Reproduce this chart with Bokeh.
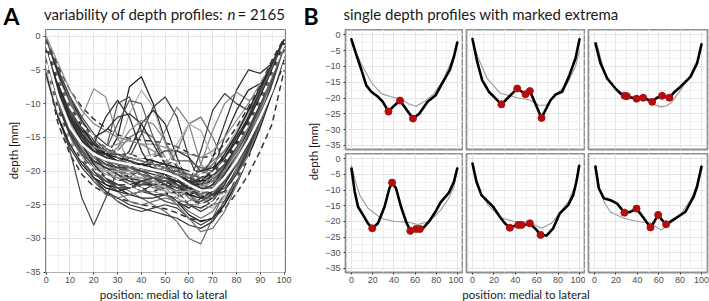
import math
from bokeh.plotting import figure
from bokeh.layouts import row, column
from bokeh.models import Label, FixedTicker
from bokeh.embed import file_html
from bokeh.resources import INLINE

# ---------------- Panel A data ----------------
a_x = [0, 5, 10, 15, 20, 25, 30, 35, 40, 45, 50, 55, 60, 65, 70, 75, 80, 85, 90, 95, 100]

a01 = [-1, -6, -10, -13, -15, -16.5, -17.5, -18, -18.5, -19, -19.5, -20.5, -21.5, -22, -21, -19, -16, -13, -9, -5, -1]
a02 = [-3, -9, -13, -16, -18, -19, -20, -20.5, -20, -19.5, -20, -22, -24, -25, -24, -21.5, -18, -14.5, -10.5, -6, -1.5]
a03 = [-2, -8, -12, -15.5, -17.5, -18, -17, -15, -14, -15, -18, -21, -23, -23.5, -22, -19, -15.5, -12, -8.5, -5, -1]
a04 = [-4, -11, -15, -18, -20, -22, -23, -23.5, -23, -22, -22, -23, -25, -26, -25, -23, -20, -16, -12, -7, -3]
a05 = [-2, -9, -14, -12, -7.8, -9, -15, -19, -20, -20, -20.5, -21.5, -22.5, -22, -20, -17.5, -14.5, -11, -7.5, -4, -0.5]
a06 = [-1, -7, -12, -15, -17, -18, -15, -7.5, -6, -10, -15.5, -19.5, -22, -23, -22, -19.5, -16, -12, -8, -4, -0.5]
a07 = [-3, -10, -14, -17, -19, -17, -10, -9, -14, -19, -21, -22, -23, -23.5, -22.5, -20, -17, -13.5, -10, -5.5, -1.5]
a08 = [-2, -8, -13, -16, -18.5, -19.5, -17, -11.5, -8, -10.5, -16, -20, -21, -20, -19, -17, -14, -11, -8, -4.5, -1]
a09 = [-4, -10, -14, -16.5, -18, -19, -19.5, -18, -14.5, -10.5, -9, -12, -18, -22, -22.5, -21, -18, -14.5, -10.5, -6, -2]
a10 = [-2, -8, -12, -15, -17, -18.5, -19.5, -20, -20.5, -21, -20, -17, -13, -12, -15, -19, -18, -15, -11, -6.5, -2]
a11 = [-1, -7, -11, -14, -16.5, -18, -19, -19.5, -20, -20.5, -21, -21.5, -22, -21, -18, -13, -8, -5, -5.5, -4, -1]
a12 = [-3, -9, -13, -16, -18, -19.5, -20.5, -21, -21.5, -22, -22.5, -23, -22, -19, -14, -10, -8.3, -9.5, -9, -5.5, -1.5]
a13 = [-2, -8, -12.5, -16, -18, -19, -20, -21, -21.5, -22, -23, -24.5, -25.5, -24, -20, -15, -11, -8, -7, -6, -2]
a14 = [-5, -12, -17, -24, -28, -24, -20, -19, -19.5, -20, -20.5, -22, -23.5, -24, -23, -21, -18, -15, -11, -7, -3]
a15 = [-3, -9, -14, -17, -19.5, -21, -22, -23, -24, -25, -26, -27.5, -30, -30.8, -27, -23, -19.5, -15.5, -11.5, -7, -3]
a16 = [-5, -12, -16.5, -19.5, -21.5, -23, -24, -25, -25.5, -26, -26.5, -27, -28, -28.5, -27.5, -25, -21.5, -17.5, -13, -8, -3.5]
a17 = [0, -4, -8, -11, -13, -14, -15, -15.5, -16, -16, -16.5, -17, -17.5, -18, -17, -15, -12.5, -10, -7, -4, -0.5]
a18 = [-1.5, -6, -9.5, -12.5, -15, -17, -19, -21, -22.5, -23, -22.5, -21.5, -21, -21.5, -21, -19, -16, -13, -9.5, -5.5, -1.5]
a19 = [-3.5, -10, -14, -16, -17, -17.5, -18, -19, -20.5, -22, -23.5, -24, -23, -21, -19, -17, -15, -12.5, -9.5, -6, -2.5]
a20 = [-2, -7, -11, -14, -16, -17, -18, -18.5, -18, -17.5, -18, -20, -23, -25, -25.5, -24, -21, -17, -12, -7, -2]
a21 = [-4.5, -11, -15, -17.5, -19, -20, -21, -22, -23, -23.5, -23.5, -23, -22.5, -23, -23.5, -22.5, -20, -17, -13, -8.5, -4]
a22 = [-1, -5.5, -9.5, -13, -16, -18.5, -20.5, -22, -23, -23, -22, -21, -20.5, -21, -21.5, -20.5, -18, -14.5, -10.5, -6, -1.5]
a23 = [-2.5, -9, -14, -17, -16, -12, -9.5, -12, -17, -20, -21, -21.5, -22, -22.5, -21.5, -19, -16, -12.5, -9, -5, -1]
a24 = [-3, -9, -13, -16, -18, -19, -20, -20.5, -20, -18, -14, -10.5, -13, -19, -21, -20, -17, -13.5, -10, -6, -2]
a25 = [-1.5, -7, -12, -15.5, -17.5, -18.5, -19, -17, -13, -11, -13, -18, -22, -24, -23.5, -21, -17.5, -13.5, -9.5, -5.5, -1.5]
a26 = [-5, -11.5, -15.5, -18.5, -20.5, -21.5, -22, -22.5, -22, -21, -20, -20, -21, -22, -21.5, -20, -17.5, -14.5, -11, -7, -3]
a27 = [-2, -7.5, -12, -15.5, -18.5, -21, -23, -24.5, -25, -24.5, -24, -24.5, -26, -27, -26, -23.5, -20, -16, -12, -7.5, -3]
a28 = [-1, -6, -10.5, -14, -16.5, -18, -19, -19.5, -19, -18, -17, -17, -18, -20, -21, -21, -19, -16, -12, -7, -2]
a29 = [-3, -8, -12, -14.5, -16, -16.5, -16, -15.5, -16, -17, -18.5, -20, -21, -20.5, -19, -17, -14.5, -11.5, -8, -4.5, -1]
a30 = [-4, -10, -15, -18.5, -21, -22.5, -23, -22.5, -21.5, -21, -21.5, -22.5, -23.5, -23, -21, -18.5, -15.5, -12.5, -9, -5, -1.5]
a31 = [-2, -8, -13, -16, -18, -17, -13, -9.5, -10, -15, -19, -21, -22, -22, -21, -19, -16, -12.5, -9, -5, -1.5]
a32 = [-3, -9, -13.5, -17, -19, -20, -21, -21.5, -21.5, -21, -19.5, -16, -13, -14, -18, -20, -18, -15, -11, -6.5, -2]
a33 = [-2, -8, -12, -15, -17, -18.5, -19.5, -20, -20.5, -21, -22, -23, -22, -17, -11, -8.5, -10, -11, -9, -5, -1]
a34 = [-6, -12, -15.5, -17.5, -18.5, -19, -19.5, -20, -20.5, -21, -21.5, -21.5, -21, -20, -18.5, -17, -15, -12.5, -9.5, -6, -2.5]
a35 = [-1, -5, -9, -12.5, -15.5, -17.5, -19, -20, -20.5, -21, -22, -23.5, -25, -25.5, -24.5, -22, -18.5, -14.5, -10, -5.5, -1]
a36 = [-3, -10, -15, -18, -19.5, -20, -19.5, -19, -19, -19.5, -20, -20.5, -21.5, -22.5, -22.5, -21, -18.5, -15.5, -12, -8, -4]
a37 = [-2.5, -8, -12.5, -16, -19, -21, -22.5, -23.5, -24, -24, -23.5, -23, -23.5, -24, -23, -21, -18, -14.5, -10.5, -6, -2]
a38 = [-0.5, -5, -9, -12, -14.5, -16, -17.5, -18.5, -19.5, -20, -20, -20, -20.5, -21, -20.5, -19, -16.5, -13.5, -10, -6, -1]
a39 = [-4, -9.5, -13, -15, -16.5, -17.5, -18.5, -20, -21.5, -22.5, -22.5, -22, -22.5, -24, -25, -24.5, -22, -18, -13, -7.5, -2]
a40 = [-2, -7, -11, -14.5, -17.5, -20, -21.5, -21, -19.5, -18.5, -19, -21, -23.5, -25, -24, -21, -17, -13, -9, -5, -1]
a41 = [-3, -9, -13, -15.5, -17, -18, -18.5, -19, -19.5, -20, -21, -22.5, -24, -24.5, -23, -20.5, -17, -13.5, -10, -6.5, -3]
a42 = [-5.5, -12, -16, -19, -21, -22, -22.5, -22.5, -22, -22, -23, -24.5, -26.5, -27.5, -27, -25, -22, -18, -13.5, -8.5, -4]
a43 = [-1, -6.5, -11, -14, -16, -17, -17.5, -18, -18.5, -19, -19, -18.5, -18.5, -19.5, -20, -19.5, -17.5, -14.5, -10.5, -6, -1.5]
a44 = [-2, -8, -12.5, -16, -18.5, -20, -20.5, -20.5, -21, -22, -23, -23.5, -23, -22, -21, -19.5, -17, -14, -10, -6, -1.5]
a45 = [-4, -10, -14.5, -18, -21, -23, -24.5, -25.5, -26, -25.5, -25, -25.5, -27, -28, -27, -24.5, -21, -17, -12.5, -8, -3.5]
a46 = [-3, -9, -14, -18, -21.5, -23.5, -24, -23.5, -23, -23, -23.5, -25, -27, -29, -28.5, -26, -22, -17.5, -13, -8, -3]
a47 = [-2, -8, -12, -14, -15, -14, -12, -11.5, -13, -16, -19, -21, -22, -22, -20.5, -18, -15, -12, -8.5, -5, -1]
a48 = [-3, -9, -13.5, -16.5, -18, -18, -16.5, -14, -12.5, -13, -15.5, -19, -22.5, -24, -23, -20.5, -17, -13, -9, -5, -1]
a49 = [-2, -7.5, -11.5, -14.5, -16.5, -17.5, -18, -18.5, -19, -19.5, -20.5, -22, -23.5, -24, -23, -20.5, -17.5, -14, -10, -6, -1.5]
a50 = [-3.5, -9.5, -13.5, -16.5, -18.5, -19.5, -20, -20, -20.5, -21, -21.5, -22, -22.5, -22.5, -21.5, -19.5, -16.5, -13, -9, -5, -1]
a51 = [-1.5, -6.5, -10.5, -13.5, -16, -17.5, -18.5, -19.5, -20, -20, -19.5, -19.5, -20.5, -22, -22.5, -21.5, -19, -15.5, -11.5, -7, -2.5]
a52 = [-4, -10.5, -14.5, -17, -18.5, -19.5, -20.5, -21.5, -22, -22, -21.5, -21.5, -22.5, -24, -24, -22, -19, -15, -11, -6.5, -2]
a53 = [-2.5, -8.5, -13, -16.5, -19, -20.5, -21, -21, -21, -21.5, -22.5, -24, -25, -25, -23.5, -21, -18, -14.5, -10.5, -6, -2]
a54 = [-1, -5.5, -10, -13.5, -16, -17.5, -18.5, -19, -19, -19, -19.5, -20.5, -21.5, -21.5, -20, -17.5, -14.5, -11, -7.5, -4, -0.5]
a55 = [-3, -9, -13.5, -17, -19.5, -21.5, -22.5, -22.5, -22, -21.5, -21.5, -22, -23, -23.5, -22.5, -20, -16.5, -12.5, -8.5, -4.5, -1]
a56 = [-5, -11.5, -15.5, -18, -19.5, -20, -20, -20, -20.5, -21.5, -22.5, -23, -23, -22.5, -21.5, -20, -17.5, -14.5, -11, -7, -3]
a57 = [-2, -7, -11.5, -15, -17.5, -19, -19.5, -19.5, -20, -21, -22, -22.5, -22, -21, -20, -18.5, -16, -13, -9.5, -5.5, -1.5]
a58 = [-3, -8.5, -12.5, -15.5, -17.5, -18.5, -19, -19.5, -20.5, -22, -23.5, -24.5, -24.5, -23.5, -22, -20, -17, -13.5, -9.5, -5.5, -1.5]
a59 = [-1.5, -7, -12, -16, -19, -21, -22, -22, -21.5, -21, -21, -21.5, -22.5, -23, -22, -19.5, -16, -12, -8, -4, -0.5]
a60 = [-4.5, -10, -13.5, -15.5, -16.5, -17, -17.5, -18, -18.5, -19, -19.5, -20.5, -22, -23.5, -24, -23, -20.5, -16.5, -12, -7, -2.5]
a61 = [-2, -8, -12.5, -15.5, -17, -17.5, -17.5, -17.5, -18, -18.5, -19, -19.5, -20, -20, -19.5, -18, -15.5, -12.5, -9, -5, -1]
a62 = [-3, -9.5, -14, -17.5, -20, -21.5, -22, -22, -22.5, -23.5, -24.5, -25, -25, -24.5, -23.5, -21.5, -18.5, -14.5, -10.5, -6, -2]
a63 = [-1, -6, -10, -13, -15, -16.5, -18, -19.5, -20.5, -21, -21, -20.5, -20.5, -21, -21.5, -21, -19, -15.5, -11, -6, -1.5]
a64 = [-2.5, -8, -12, -15, -17, -18, -18.5, -19, -19.5, -20, -20.5, -21, -21.5, -22.5, -23.5, -23, -20.5, -16.5, -12, -7, -2.5]

a_median = [-2.5, -9, -13.5, -16, -17.5, -18.3, -18.7, -19.0, -19.4, -19.8, -20.2, -20.9, -22.0, -22.9, -22.8, -21.0, -18.5, -15.5, -12, -8, -2.5]
a_q_upper = [-1.2, -6.5, -10.5, -13.2, -15, -16.3, -17.2, -17.7, -17.9, -18, -18.2, -18.8, -19.8, -20.6, -20.3, -18.6, -16, -13, -9.5, -5.5, -1.2]
a_q_lower = [-4, -11, -15.5, -18.3, -19.8, -20.8, -21.5, -22.2, -22.6, -22.9, -23.2, -23.8, -24.6, -25.0, -24.7, -23.3, -21.0, -18.2, -14.8, -10.8, -4]
a_p_upper = [-0.5, -4.5, -8, -10.5, -12.3, -13.6, -14.6, -15.2, -15.4, -15.6, -15.8, -16.4, -17.3, -18, -17.8, -16, -13.5, -10.5, -7.2, -3.5, -0.3]
a_p_lower = [-5, -13, -17.5, -20.5, -22.3, -23.3, -24, -24.5, -25, -25.3, -25.6, -26.2, -27, -27.4, -27, -25.6, -23.3, -20.5, -17, -13, -5]

a_xticks = [0, 10, 20, 30, 40, 50, 60, 70, 80, 90, 100]
a_xtick_labels = ["0", "10", "20", "30", "40", "50", "60", "70", "80", "90", "100"]
depth_ticks = [0, -5, -10, -15, -20, -25, -30, -35]
depth_tick_labels = ["0", "\u22125", "\u221210", "\u221215", "\u221220", "\u221225", "\u221230", "\u221235"]

# ---------------- Panel B data ----------------
b_xticks = [0, 20, 40, 60, 80, 100]
b_xtick_labels = ["0", "20", "40", "60", "80", "100"]

b1_x = [0, 4.7, 9.3, 14, 18.7, 25, 29.6, 34.9, 40, 45.8, 52.3, 58, 63.9, 71.7, 79.4, 87.2, 92.8, 96.6, 99.7]
b1_y = [-1.4, -6.4, -11, -16, -18, -19.6, -21.2, -24.3, -22.5, -20.8, -23.9, -26.5, -25, -21.2, -19.1, -14.3, -11, -6.9, -2.4]
b1_gx = [0, 9.3, 18.7, 28, 37.4, 46.7, 53, 60.7, 68.5, 77.9, 87.2, 96.6, 99.5]
b1_gy = [-2.6, -9.2, -15, -18.6, -19.6, -20.3, -21.7, -22.6, -21.2, -18.6, -13.9, -6.4, -3]
b1_ex = [34.9, 45.8, 58]
b1_ey = [-24.3, -20.8, -26.5]

b2_x = [0, 4.4, 9, 15.3, 21.5, 27, 34.1, 41.8, 49.5, 53.6, 59, 64.5, 72.9, 77.6, 83.8, 90, 96.3, 100]
b2_y = [-1.3, -8.5, -14.3, -18, -20.1, -22, -19.6, -17, -18.8, -17.8, -22, -26.3, -20.7, -18.9, -18, -13.3, -7.4, -1.4]
b2_gx = [0, 5, 13.7, 26, 41.8, 54, 62, 68.5, 76.2, 88.6, 96.3, 100]
b2_gy = [-1.8, -7, -13.8, -18.5, -19.9, -20.7, -22.3, -22.3, -19.6, -15.4, -10, -5]
b2_ex = [27, 41.8, 49.5, 53.6, 64.5]
b2_ey = [-22, -17, -18.8, -17.8, -26.3]

b3_x = [0.9, 5.6, 11.9, 19.6, 24, 29, 34, 39.3, 45.5, 50, 53.9, 58, 63.2, 70, 75, 80.4, 89.7, 95.9, 100]
b3_y = [-2.7, -9, -13.8, -17, -18.5, -19.4, -19.8, -20.2, -19.9, -20.5, -21.2, -20, -19.3, -19.9, -18, -16.4, -13.3, -9, -3]
b3_gx = [1.6, 10, 20, 30, 40, 50, 55, 61.7, 67, 72, 80.4, 90, 96, 100]
b3_gy = [-2.2, -12.5, -17.2, -19.2, -20.1, -21, -21.9, -22.8, -22.5, -21.4, -17.5, -12.5, -8, -3.5]
b3_ex = [28.2, 30.2, 39.3, 45.5, 53.9, 63.2, 70]
b3_ey = [-19.3, -19.4, -20.2, -19.9, -21.2, -19.3, -19.9]

b4_x = [0, 3.1, 6.2, 10.9, 15.6, 19.6, 25, 31.2, 35.8, 38.3, 42, 46.7, 51.4, 55.5, 58, 61, 64.5, 68, 73.2, 79, 84, 91.9, 96.6, 99.7]
b4_y = [-3.1, -10.5, -15.3, -17.9, -20.6, -22.2, -20.6, -15.3, -9.4, -7.6, -9.4, -15.3, -20, -23, -22.6, -22.4, -22.4, -22, -20, -17, -13.9, -10.8, -7.3, -3.1]
b4_gx = [0, 4, 7.8, 15.6, 28, 40.5, 53, 62.3, 71.7, 78, 84, 91, 96.6, 100]
b4_gy = [-2, -7.5, -11.6, -15.8, -19, -20, -20.2, -21, -20.2, -18.5, -16.4, -13, -9, -2.5]
b4_ex = [19.6, 38.3, 55.5, 61, 64.5]
b4_ey = [-22.2, -7.6, -23, -22.4, -22.4]

b5_x = [0, 3.7, 8.4, 13, 19.3, 25.5, 30.2, 34.9, 38.5, 42.7, 45.8, 50, 53.6, 59.8, 63.6, 69.2, 75.4, 81.6, 89.4, 94.1, 97, 99.7]
b5_y = [-1.5, -7.3, -11.6, -13.2, -15.3, -18.5, -20.6, -22, -21.5, -21.1, -21.1, -21, -20.6, -22.7, -24.3, -24.5, -22.2, -17.4, -14.8, -11.6, -7.5, -2.2]
b5_gx = [0, 7.8, 15, 28, 38.8, 49.7, 57, 64.5, 73.8, 82, 90, 96, 99.7]
b5_gy = [-2.5, -11, -15, -19, -20, -20.2, -21, -22.2, -20.6, -17, -13.5, -8.5, -2]
b5_ex = [34.9, 42.7, 45.8, 53.6, 63.6]
b5_ey = [-22, -21.1, -21.1, -20.6, -24.3]

b6_x = [0.9, 4, 8.7, 15, 21.2, 28, 33, 39.3, 46.1, 52.3, 56, 59.5, 63, 66.9, 75.7, 85, 92.8, 95.9, 100]
b6_y = [-2.5, -9.4, -12.6, -13.2, -14.3, -17.2, -17, -15.9, -19, -21.9, -20, -17.9, -19.5, -20.9, -19, -16.9, -12, -8.8, -2.5]
b6_gx = [0.9, 5, 10, 15, 27.4, 39.9, 52.3, 61.7, 68, 80, 90, 96, 100]
b6_gy = [-2, -10, -14.5, -17, -19, -20, -20.5, -22.7, -21.5, -18, -13, -8, -2.5]
b6_ex = [28, 39.3, 52.3, 59.5, 66.9]
b6_ey = [-17.2, -15.9, -21.9, -17.9, -20.9]

# ---------------- helpers ----------------
TITLE_FONT = "Lato"
TICK_FONT = "Liberation Sans"
TXT = "#1a1a1a"


def style_axes(f, xt, xlab, xminor, yt, ylab, yminor):
    f.xaxis.ticker = FixedTicker(ticks=xt, minor_ticks=xminor)
    f.yaxis.ticker = FixedTicker(ticks=yt, minor_ticks=yminor)
    f.xaxis.major_label_overrides = {t: s for t, s in zip(xt, xlab)}
    f.yaxis.major_label_overrides = {t: s for t, s in zip(yt, ylab)}
    for ax in list(f.xaxis) + list(f.yaxis):
        ax.axis_line_color = None
        ax.major_tick_line_color = "#333333"
        ax.major_tick_out = 2
        ax.major_tick_in = 0
        ax.minor_tick_line_color = None
        ax.major_label_text_font = TICK_FONT
        ax.major_label_text_font_size = "9px"
        ax.major_label_text_color = "#4d4d4d"
    for ax in f.xaxis:
        ax.major_label_standoff = 0
    for ax in f.yaxis:
        ax.major_label_standoff = 1
    f.xgrid.grid_line_color = "#e4e4e4"
    f.ygrid.grid_line_color = "#e4e4e4"
    f.xgrid.minor_grid_line_color = "#f0f0f0"
    f.ygrid.minor_grid_line_color = "#f0f0f0"


def blank(w, h, xr, yr, bottom=0):
    f = figure(width=w, height=h, x_range=xr, y_range=yr, toolbar_location=None,
               output_backend="svg", title=None,
               min_border_left=0, min_border_right=0, min_border_top=0, min_border_bottom=bottom)
    f.axis.visible = False
    f.grid.visible = False
    f.outline_line_color = None
    return f


# ---------------- title row (canvas coordinates, y up from row bottom) ----------------
titles = blank(709, 29, (0, 709), (0, 29))
titles.add_layout(Label(x=3, y=14, text="A", text_font=TITLE_FONT, text_font_size="23px",
                        text_font_style="bold", text_baseline="middle", text_color="black"))
titles.add_layout(Label(x=223, y=15.3, text="variability of depth profiles:", text_align="right",
                        text_font=TITLE_FONT, text_font_size="15px", text_baseline="middle",
                        text_color=TXT))
titles.add_layout(Label(x=227, y=15.3, text="n", text_align="left", text_font=TITLE_FONT,
                        text_font_size="15px", text_font_style="italic", text_baseline="middle",
                        text_color=TXT))
titles.add_layout(Label(x=237, y=15.3, text="= 2165", text_align="left", text_font=TITLE_FONT,
                        text_font_size="15px", text_baseline="middle", text_color=TXT))
titles.add_layout(Label(x=303, y=14, text="B", text_font=TITLE_FONT, text_font_size="23px",
                        text_font_style="bold", text_baseline="middle", text_color="black"))
titles.add_layout(Label(x=480.5, y=15.3, text="single depth profiles with marked extrema",
                        text_align="center", text_font=TITLE_FONT, text_font_size="15px",
                        text_baseline="middle", text_color=TXT))

# ---------------- bottom row (x axis titles) ----------------
bottoms = blank(709, 14, (0, 709), (0, 14))
bottoms.add_layout(Label(x=163, y=7, text="position: medial to lateral", text_align="center",
                         text_baseline="middle", text_font=TITLE_FONT, text_font_size="11.5px",
                         text_color=TXT))
bottoms.add_layout(Label(x=525.5, y=7, text="position: medial to lateral", text_align="center",
                         text_baseline="middle", text_font=TITLE_FONT, text_font_size="11.5px",
                         text_color=TXT))

# ---------------- y axis title strips ----------------
stripA = blank(22, 258, (0, 22), (0, 243), bottom=15)
stripA.add_layout(Label(x=13, y=122, text="depth [mm]", angle=math.pi / 2, text_align="center",
                        text_baseline="middle", text_font=TITLE_FONT, text_font_size="11.5px",
                        text_color=TXT))
stripB = blank(22, 258, (0, 22), (0, 243), bottom=15)
stripB.add_layout(Label(x=13, y=121, text="depth [mm]", angle=math.pi / 2, text_align="center",
                        text_baseline="middle", text_font=TITLE_FONT, text_font_size="11.5px",
                        text_color=TXT))

# ---------------- Panel A ----------------
figA = figure(width=278, height=258, x_range=(-0.3, 100.6), y_range=(-35.05, 1.0),
              toolbar_location=None, output_backend="svg", title=None,
              min_border_left=21, min_border_right=15, min_border_top=0, min_border_bottom=15)
style_axes(figA, a_xticks, a_xtick_labels, [5, 15, 25, 35, 45, 55, 65, 75, 85, 95],
           depth_ticks, depth_tick_labels, [-2.5, -7.5, -12.5, -17.5, -22.5, -27.5, -32.5])
figA.outline_line_color = "#7f7f7f"
figA.outline_line_width = 1

a_curves = [a01, a02, a03, a04, a05, a06, a07, a08, a09, a10, a11, a12, a13, a14, a15, a16,
            a17, a18, a19, a20, a21, a22, a23, a24, a25, a26, a27, a28, a29, a30, a31, a32,
            a33, a34, a35, a36, a37, a38, a39, a40, a41, a42, a43, a44, a45, a46, a47, a48,
            a49, a50, a51, a52, a53, a54, a55, a56, a57, a58, a59, a60, a61, a62, a63, a64]
greys = ["#262626", "#4a4a4a", "#6e6e6e", "#333333", "#8f8f8f", "#1e1e1e", "#5a5a5a",
         "#b0b0b0", "#404040", "#747474", "#2e2e2e", "#858585"]

figA.line(a_x, a_p_upper, line_color="#333333", line_width=1.5, line_dash="6 4")
figA.line(a_x, a_p_lower, line_color="#333333", line_width=1.5, line_dash="6 4")
for i, c in enumerate(a_curves):
    figA.line(a_x, c, line_color=greys[i % len(greys)], line_width=1.25, line_join="round")

figA.line(a_x, a_q_upper, line_color="white", line_width=2.2, line_dash="7 4", line_join="round")
figA.line(a_x, a_q_lower, line_color="white", line_width=2.2, line_dash="7 4", line_join="round")
figA.line(a_x, a_median, line_color="white", line_width=2.4, line_join="round")


# ---------------- Panel B ----------------
def facet(w, h, bl, br, bb, show_x, show_y, bx, by, gx, gy, ex, ey):
    f = figure(width=w, height=h, x_range=(-5.6, 105.6), y_range=(-36.3, 1.7),
               toolbar_location=None, output_backend="svg", title=None,
               min_border_left=bl, min_border_right=br, min_border_top=0, min_border_bottom=bb)
    style_axes(f, b_xticks, b_xtick_labels, [10, 30, 50, 70, 90],
               depth_ticks, depth_tick_labels,
               [-2.5, -7.5, -12.5, -17.5, -22.5, -27.5, -32.5])
    f.xaxis.visible = show_x
    f.yaxis.visible = show_y
    f.outline_line_color = "#8f8f8f"
    f.outline_line_width = 1.8
    f.line(gx, gy, line_color="#9a9a9a", line_width=1.1, line_join="round")
    f.line(bx, by, line_color="black", line_width=2.6, line_join="round", line_cap="round")
    f.scatter(ex, ey, size=7, fill_color="#b30d0d", line_color="#b30d0d")
    return f


b11 = facet(141, 124, 22, 0, 4, False, True, b1_x, b1_y, b1_gx, b1_gy, b1_ex, b1_ey)
b12 = facet(122, 124, 3, 0, 4, False, False, b2_x, b2_y, b2_gx, b2_gy, b2_ex, b2_ey)
b13 = facet(124, 124, 3, 2, 4, False, False, b3_x, b3_y, b3_gx, b3_gy, b3_ex, b3_ey)
b21 = facet(141, 134, 22, 0, 15, True, True, b4_x, b4_y, b4_gx, b4_gy, b4_ex, b4_ey)
b22 = facet(122, 134, 3, 0, 15, True, False, b5_x, b5_y, b5_gx, b5_gy, b5_ex, b5_ey)
b23 = facet(124, 134, 3, 2, 15, True, False, b6_x, b6_y, b6_gx, b6_gy, b6_ex, b6_ey)

gridB = column(row(b11, b12, b13), row(b21, b22, b23))
middle = row(stripA, figA, stripB, gridB)
layout = column(titles, middle, bottoms)

html = file_html(layout, INLINE)
open("out.html", "w").write(html)
